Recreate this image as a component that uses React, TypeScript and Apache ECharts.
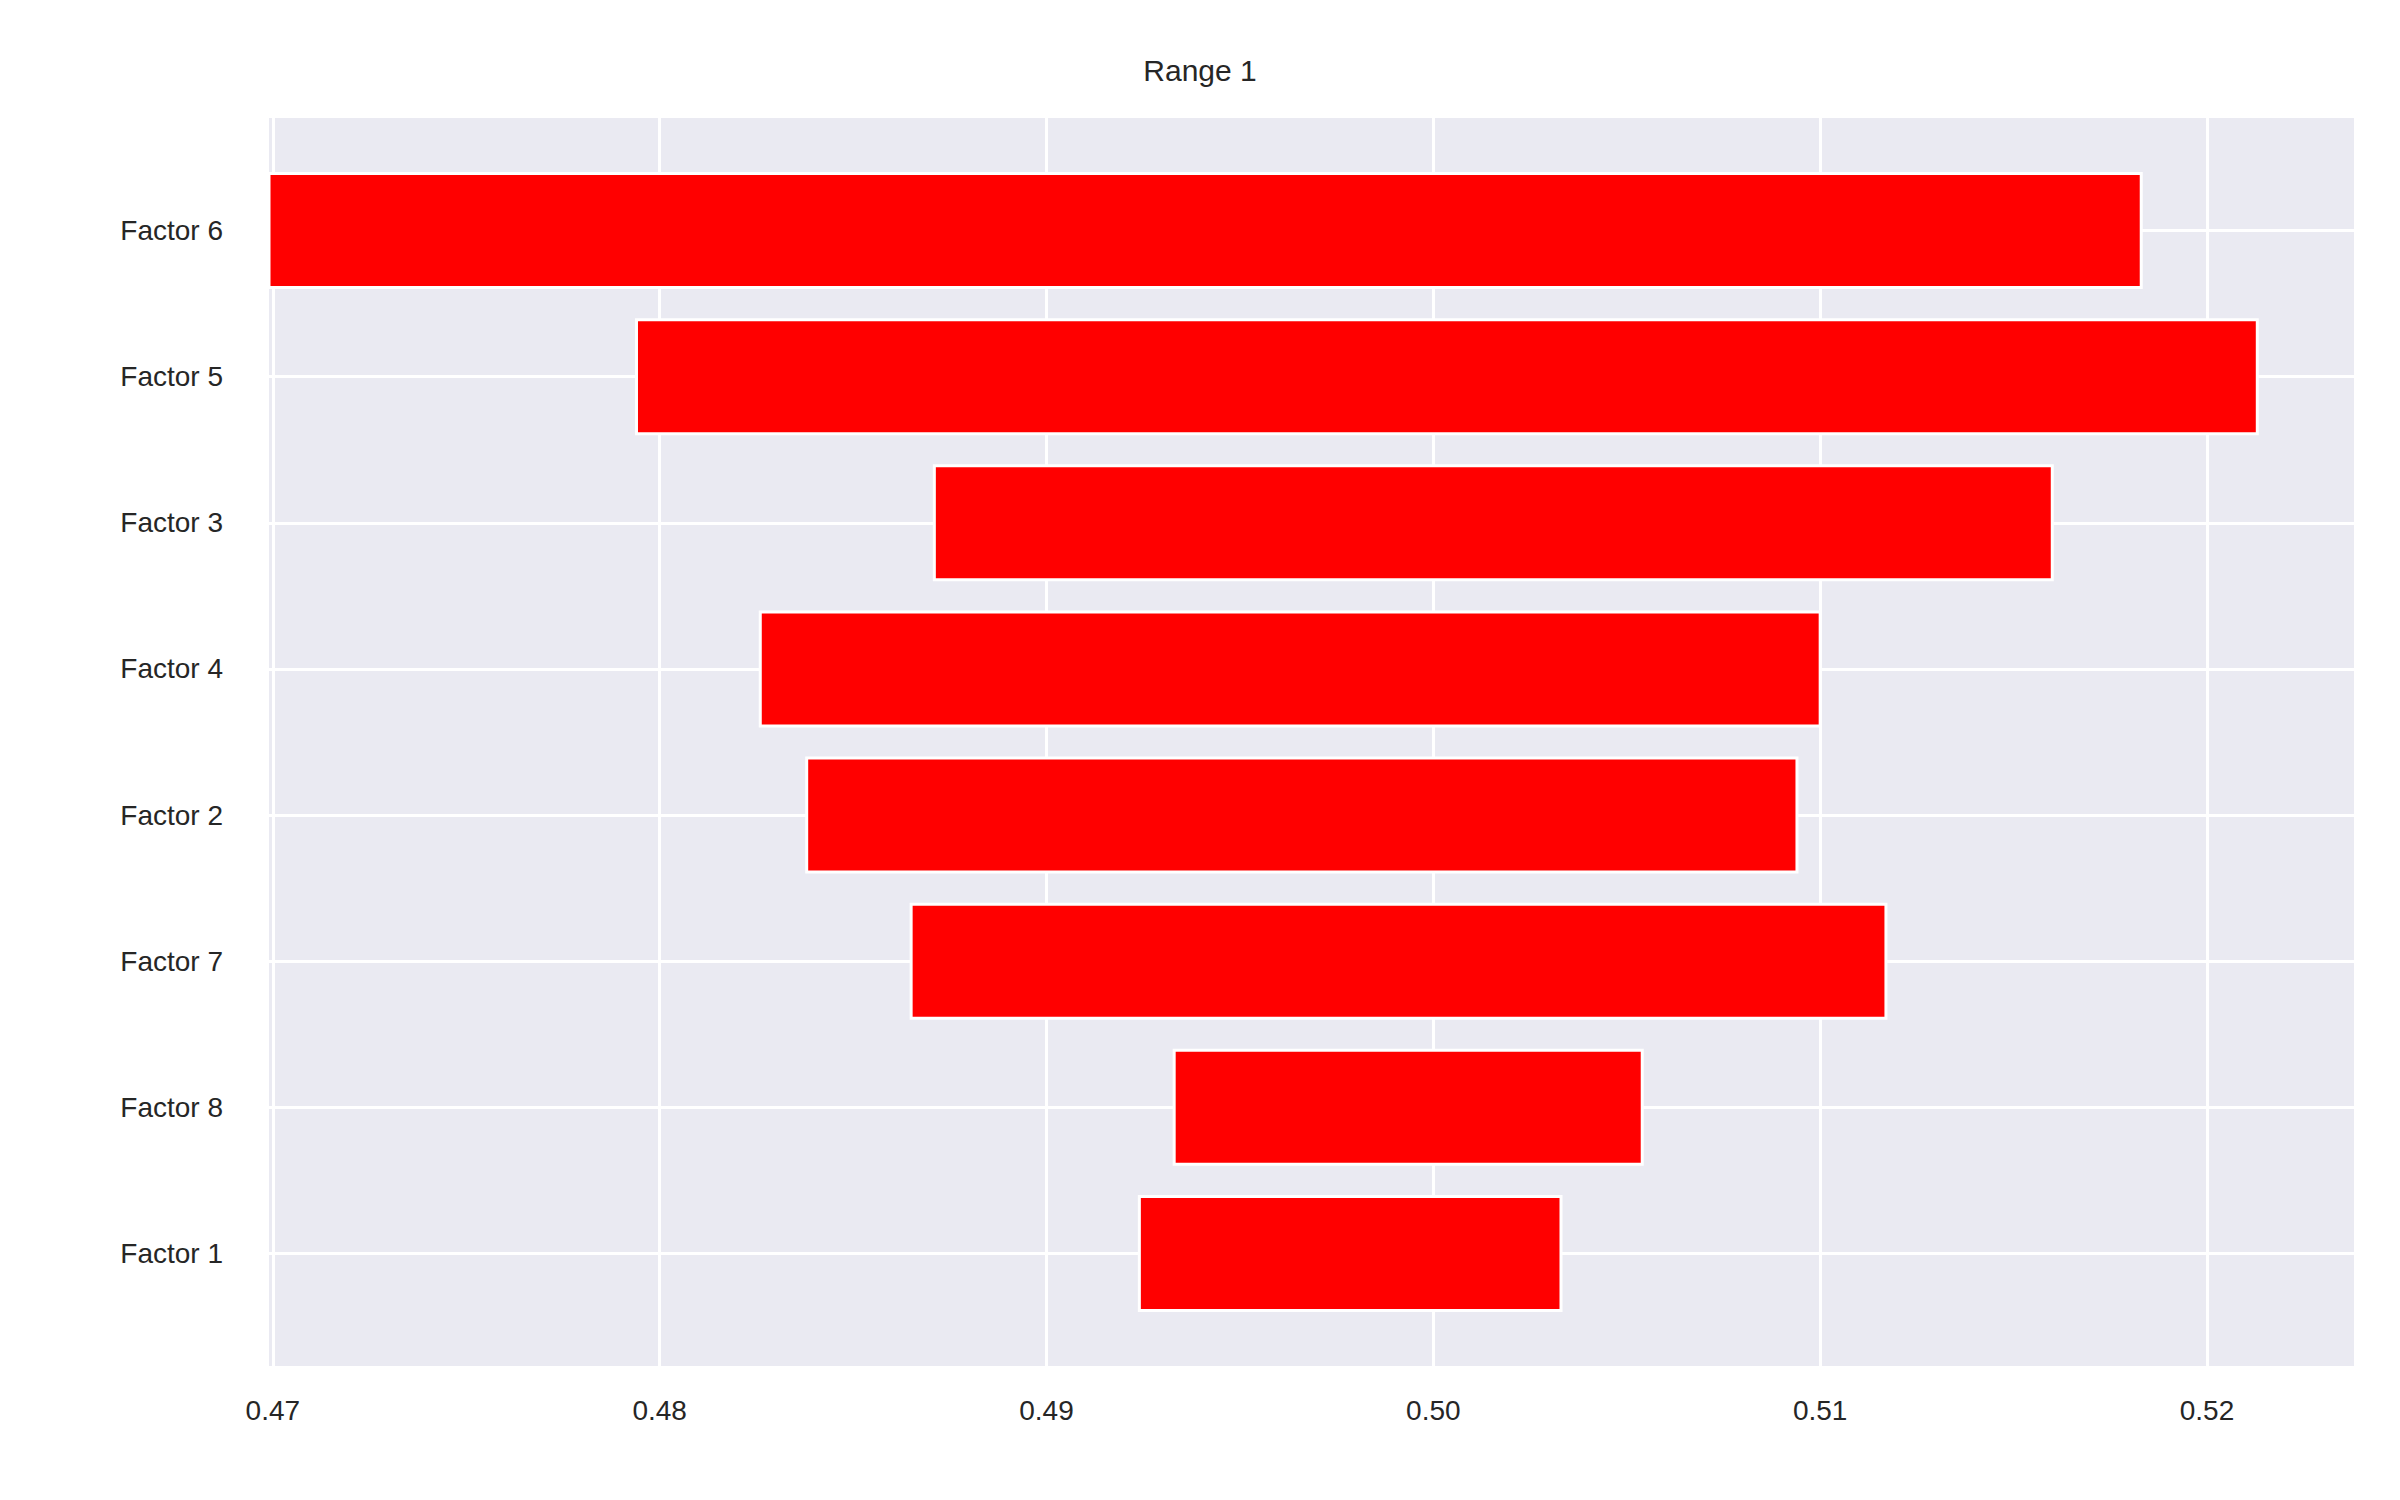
import { useEffect, useRef } from 'react';
import * as echarts from 'echarts';

const factors = ['Factor 6', 'Factor 5', 'Factor 3', 'Factor 4', 'Factor 2', 'Factor 7', 'Factor 8', 'Factor 1'];
const lows = [0.4699, 0.4794, 0.4871, 0.4826, 0.4838, 0.4865, 0.4933, 0.4924];
const highs = [0.5183, 0.5213, 0.516, 0.51, 0.5094, 0.5117, 0.5054, 0.5033];
const xTicks = [0.47, 0.48, 0.49, 0.5, 0.51, 0.52];

export default function App() {
  const ref = useRef<HTMLDivElement>(null);

  useEffect(() => {
    document.body.style.margin = '0';
    if (!ref.current) return;
    const chart = echarts.init(ref.current, undefined, { renderer: 'svg' });
    const font = 'Arial, "Liberation Sans", sans-serif';
    const rows = factors.map((_, i) => i);

    chart.setOption({
      animation: false,
      backgroundColor: '#ffffff',
      title: {
        text: 'Range 1',
        left: 'center',
        top: 50,
        textStyle: { fontFamily: font, fontSize: 30, fontWeight: 'normal', color: '#262626' },
      },
      grid: { left: 269, right: 46, top: 118, bottom: 134, backgroundColor: '#eaeaf2', show: true, borderWidth: 0 },
      xAxis: {
        type: 'value',
        min: 0.4699,
        max: 0.5238,
        axisLine: { show: false },
        axisTick: { show: false },
        splitLine: { show: false },
        axisLabel: {
          customValues: xTicks,
          formatter: (v: number) => v.toFixed(2),
          fontFamily: font,
          fontSize: 28,
          color: '#262626',
          margin: 30,
        },
      },
      yAxis: {
        type: 'value',
        min: -0.77,
        max: 7.77,
        inverse: true,
        axisLine: { show: false },
        axisTick: { show: false },
        splitLine: { show: false },
        axisLabel: {
          customValues: rows,
          formatter: (v: number) => factors[Math.round(v)] ?? '',
          fontFamily: font,
          fontSize: 28,
          color: '#262626',
          margin: 46,
        },
      },
      series: [
        {
          type: 'custom',
          data: factors.map((_, i) => [lows[i], highs[i], i]),
          encode: { x: [0, 1], y: 2 },
          renderItem: (_params: any, api: any) => {
            const a = api.coord([api.value(0), api.value(2)]);
            const b = api.coord([api.value(1), api.value(2)]);
            const h = api.size([0, 0.78])[1];
            return {
              type: 'rect',
              shape: { x: a[0], y: a[1] - h / 2, width: b[0] - a[0], height: h },
              style: { fill: '#ff0000', stroke: '#ffffff', lineWidth: 3 },
            };
          },
          z: 5,
          markLine: {
            silent: true,
            symbol: 'none',
            label: { show: false },
            lineStyle: { color: '#ffffff', width: 3, type: 'solid' },
            data: [
              ...xTicks.map((x) => ({ xAxis: x })),
              ...rows.map((y) => ({ yAxis: y })),
            ],
            z: 1,
          },
        },
      ],
    });

    return () => chart.dispose();
  }, []);

  return <div ref={ref} style={{ width: 2400, height: 1500 }} />;
}
